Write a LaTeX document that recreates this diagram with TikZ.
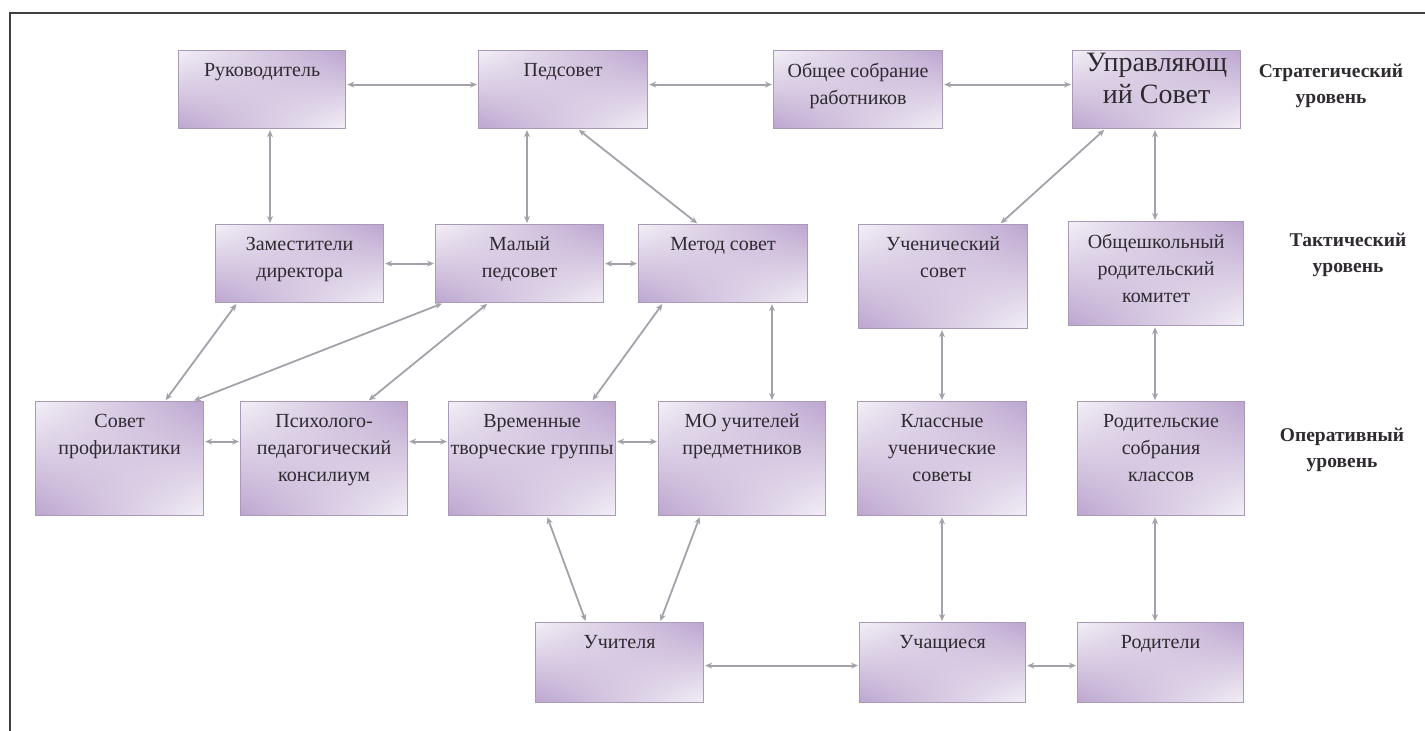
\documentclass[tikz,border=0pt]{standalone}
\usepackage{fontspec}
\setmainfont{Liberation Serif}
\usetikzlibrary{arrows.meta,shadings}

\definecolor{boxdark}{HTML}{BCA5CF}
\definecolor{boxlight}{HTML}{F3EFF6}
\definecolor{boxedge}{HTML}{A99BB8}
\definecolor{concol}{HTML}{A3A2AA}
\definecolor{textcol}{HTML}{2E2A30}

\newcommand{\boxfont}{\fontsize{20}{27}\selectfont}
\newcommand{\bigboxfont}{\fontsize{28}{32}\selectfont}
\newcommand{\lvlfont}{\bfseries\fontsize{19.5}{26}\selectfont}

\tikzset{
  blk/.style={draw=boxedge, line width=1.2pt, shade,
    upper left=boxlight, upper right=boxdark,
    lower left=boxdark, lower right=boxlight,
    anchor=north west, inner sep=0pt},
  txt/.style={anchor=north, inner sep=0pt, yshift=-13pt, align=center,
    font=\boxfont, text=textcol},
  bigtxt/.style={anchor=north, inner sep=0pt, yshift=-3pt, align=center,
    font=\bigboxfont, text=textcol},
  lvl/.style={align=center, font=\lvlfont, text=textcol},
  con/.style={draw=concol, line width=1.8pt, shorten >=1pt, shorten <=1pt,
    {Stealth[length=7pt,width=6pt]}-{Stealth[length=7pt,width=6pt]}}
}

\begin{document}
\begin{tikzpicture}[x=1pt,y=-1pt]
\useasboundingbox (0,0) rectangle (1425,731);
\draw[line width=2pt, color=black!75] (10,731) -- (10,13) -- (1425,13);

% strategic level
\node[blk, minimum width=167pt, minimum height=78pt, label={[txt]north:Руководитель}] (ruk) at (178,50) {};
\node[blk, minimum width=169pt, minimum height=78pt, label={[txt]north:Педсовет}] (ped) at (478,50) {};
\node[blk, minimum width=169pt, minimum height=78pt, label={[txt]north:{Общее собрание\\работников}}] (obs) at (773,50) {};
\node[blk, minimum width=168pt, minimum height=78pt, label={[bigtxt]north:{Управляющ\\ий Совет}}] (upr) at (1072,50) {};

% tactical level
\node[blk, minimum width=168pt, minimum height=78pt, label={[txt]north:{Заместители\\директора}}] (zam) at (215,224) {};
\node[blk, minimum width=168pt, minimum height=78pt, label={[txt]north:{Малый\\педсовет}}] (mal) at (435,224) {};
\node[blk, minimum width=169pt, minimum height=78pt, label={[txt]north:Метод совет}] (met) at (638,224) {};
\node[blk, minimum width=169pt, minimum height=104pt, label={[txt]north:{Ученический\\совет}}] (uch) at (858,224) {};
\node[blk, minimum width=175pt, minimum height=104pt, label={[txt]north:{Общешкольный\\родительский\\комитет}}] (obrk) at (1068,221) {};

% operative level
\node[blk, minimum width=168pt, minimum height=114pt, label={[txt]north:{Совет\\профилактики}}] (sp) at (35,401) {};
\node[blk, minimum width=167pt, minimum height=114pt, label={[txt]north:{Психолого-\\педагогический\\консилиум}}] (pp) at (240,401) {};
\node[blk, minimum width=167pt, minimum height=114pt, label={[txt]north:{Временные\\творческие группы}}] (vtg) at (448,401) {};
\node[blk, minimum width=167pt, minimum height=114pt, label={[txt]north:{МО учителей\\предметников}}] (mo) at (658,401) {};
\node[blk, minimum width=169pt, minimum height=114pt, label={[txt]north:{Классные\\ученические\\советы}}] (kus) at (857,401) {};
\node[blk, minimum width=167pt, minimum height=114pt, label={[txt]north:{Родительские\\собрания\\классов}}] (rsk) at (1077,401) {};

% bottom
\node[blk, minimum width=168pt, minimum height=80pt, label={[txt]north:Учителя}] (utl) at (535,622) {};
\node[blk, minimum width=166pt, minimum height=80pt, label={[txt]north:Учащиеся}] (uchs) at (859,622) {};
\node[blk, minimum width=166pt, minimum height=80pt, label={[txt]north:Родители}] (rdt) at (1077,622) {};

% levels
\node[lvl] (lstr) at (1331,86) {Стратегический\\уровень};
\node[lvl] (ltak) at (1348,255) {Тактический\\уровень};
\node[lvl] (lop) at (1342,450) {Оперативный\\уровень};

% connectors
\path[con] ([yshift=5pt]ruk.east) -- ([yshift=5pt]ped.west);
\path[con] ([yshift=5pt]ped.east) -- ([yshift=5pt]obs.west);
\path[con] ([yshift=5pt]obs.east) -- ([yshift=5pt]upr.west);
\path[con] ([xshift=92pt]ruk.south west) -- ([xshift=55pt]zam.north west);
\path[con] ([xshift=49pt]ped.south west) -- ([xshift=92pt]mal.north west);
\path[con] ([xshift=100pt]ped.south west) -- ([xshift=60pt]met.north west);
\path[con] ([xshift=33pt]upr.south west) -- ([xshift=142pt]uch.north west);
\path[con] ([xshift=83pt]upr.south west) -- ([xshift=87pt]obrk.north west);
\path[con] (zam.east) -- (mal.west);
\path[con] (mal.east) -- (met.west);
\path[con] ([xshift=22pt]zam.south west) -- ([xshift=130pt]sp.north west);
\path[con] ([xshift=8pt]mal.south west) -- ([xshift=158pt]sp.north west);
\path[con] ([xshift=53pt]mal.south west) -- ([xshift=128pt]pp.north west);
\path[con] ([xshift=25pt]met.south west) -- ([xshift=144pt]vtg.north west);
\path[con] ([xshift=134pt]met.south west) -- ([xshift=114pt]mo.north west);
\path[con] ([xshift=84pt]uch.south west) -- ([xshift=85pt]kus.north west);
\path[con] ([xshift=87pt]obrk.south west) -- ([xshift=78pt]rsk.north west);
\path[con] ([yshift=17pt]sp.east) -- ([yshift=17pt]pp.west);
\path[con] ([yshift=17pt]pp.east) -- ([yshift=17pt]vtg.west);
\path[con] ([yshift=17pt]vtg.east) -- ([yshift=17pt]mo.west);
\path[con] ([xshift=99pt]vtg.south west) -- ([xshift=51pt]utl.north west);
\path[con] ([xshift=42pt]mo.south west) -- ([xshift=125pt]utl.north west);
\path[con] ([xshift=85pt]kus.south west) -- ([xshift=83pt]uchs.north west);
\path[con] ([xshift=78pt]rsk.south west) -- ([xshift=78pt]rdt.north west);
\path[con] ([yshift=-3pt]utl.east) -- ([yshift=-3pt]uchs.west);
\path[con] ([yshift=-3pt]uchs.east) -- ([yshift=-3pt]rdt.west);
\end{tikzpicture}
\end{document}
